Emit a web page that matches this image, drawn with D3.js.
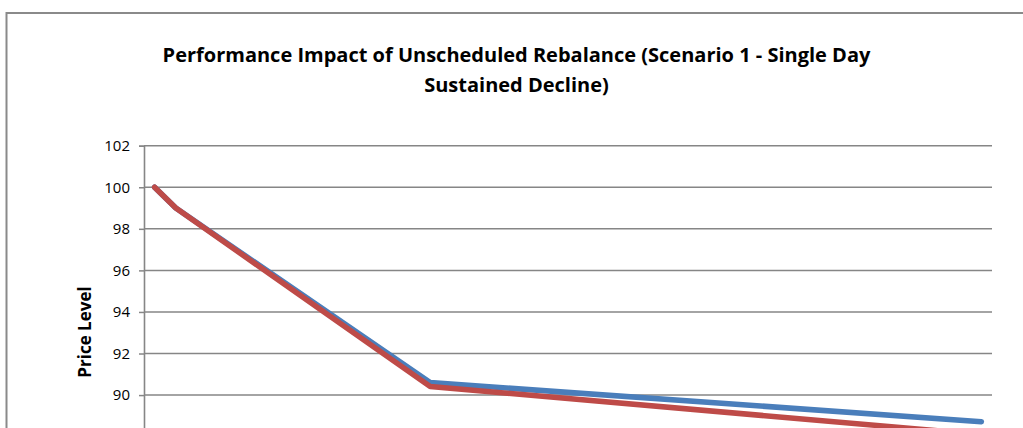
<!DOCTYPE html>
<html>
<head>
<meta charset="utf-8">
<script src="https://cdn.jsdelivr.net/npm/d3@7"></script>
<style>
	body { margin: 0; background: #fff; }
	svg { display: block; font-family: "Open Sans", Lato, sans-serif; }
</style>
</head>
<body>
<svg id="chart" width="1023" height="428"></svg>
<script>
// day index of each visible vertex
const days = [0, 1, 13, 39]
const seriesA = [100, 99, 90.6, 88.72]
const seriesB = [100, 99, 90.41, 88.1]
const yTicks = [90, 92, 94, 96, 98, 100, 102]
const titleLines = ["Performance Impact of Unscheduled Rebalance (Scenario 1 - Single Day", "Sustained Decline)"]
const yTitle = "Price Level"

const svg = d3.select("#chart")
const plotLeft = 144
const plotRight = 992
const plotTop = 145.7
const plotBottom = 478.2
const nDays = 40

// category style axis: each day sits in the middle of its slot
const band = (plotRight - plotLeft) / nDays
const x = d3.scaleLinear().domain([0, nDays - 1]).range([plotLeft + band / 2, plotRight - band / 2])
const y = d3.scaleLinear().domain([86, 102]).range([plotBottom, plotTop])

// outer frame
svg.append("rect")
	.attr("x", 6.5)
	.attr("y", 13)
	.attr("width", 1100)
	.attr("height", 600)
	.attr("fill", "none")
	.attr("stroke", "#8a8a8a")
	.attr("stroke-width", 2)

// title
const title = svg.append("text")
	.attr("text-anchor", "middle")
	.attr("font-weight", "bold")
	.attr("font-size", 20)
	.attr("fill", "#000")
title.selectAll("tspan")
	.data(titleLines)
	.join("tspan")
	.attr("x", 516.5)
	.attr("y", (d, i) => 62 + i * 29.5)
	.text(d => d)

// gridlines
svg.append("g")
	.selectAll("line")
	.data(yTicks)
	.join("line")
	.attr("x1", plotLeft)
	.attr("x2", plotRight)
	.attr("y1", d => y(d))
	.attr("y2", d => y(d))
	.attr("stroke", "#868686")
	.attr("stroke-width", 1.5)

// y axis
const yAxis = d3.axisLeft(y).tickValues(yTicks).tickSize(5).tickPadding(9)
const ag = svg.append("g")
	.attr("transform", `translate(${plotLeft},0)`)
	.call(yAxis)
ag.select(".domain").attr("stroke", "#868686").attr("stroke-width", 1.6)
ag.selectAll(".tick line").attr("stroke", "#868686").attr("stroke-width", 1.5)
ag.selectAll(".tick text")
	.attr("font-family", "'Open Sans', Lato, sans-serif")
	.attr("font-size", 15)
	.attr("fill", "#000")

svg.append("text")
	.attr("transform", "translate(91,332) rotate(-90)")
	.attr("text-anchor", "middle")
	.attr("font-weight", "bold")
	.attr("font-size", 17)
	.attr("fill", "#000")
	.text(yTitle)

// series
const line = d3.line()
	.x((d, i) => x(days[i]))
	.y(d => y(d))

const series = [
	{ values: seriesA, color: "#4a7ebb" },
	{ values: seriesB, color: "#be4b48" }
]

svg.append("g")
	.selectAll("path")
	.data(series)
	.join("path")
	.attr("d", d => line(d.values))
	.attr("fill", "none")
	.attr("stroke", d => d.color)
	.attr("stroke-width", 5.5)
	.attr("stroke-linecap", "round")
	.attr("stroke-linejoin", "round")
</script>
</body>
</html>
